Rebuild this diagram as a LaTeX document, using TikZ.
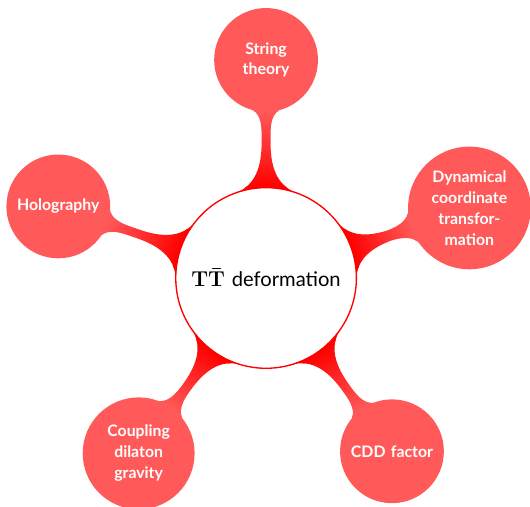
\documentclass[tikz,border=0pt]{standalone}
\usepackage{amsmath}
\usepackage[no-math]{fontspec}
\setsansfont{Lato}
\usetikzlibrary{mindmap}

\colorlet{branch}{red!65}

\tikzset{
  hub/.style={concept, concept color=red, fill=white, draw=red, line width=0.9pt,
    text=black, minimum size=4.25cm, text width=3.8cm,
    font=\sffamily\fontsize{13.5}{16}\selectfont},
  leaf/.style={concept, concept color=branch, fill=branch, text=white,
    minimum size=2.4cm, text width=2.05cm, inner sep=1.5pt,
    font=\sffamily\bfseries\fontsize{10.6}{14}\selectfont},
  bar/.style={circle connection bar switch color=from (red) to (branch)},
}

\begin{document}
\begin{tikzpicture}[mindmap]
  \useasboundingbox (-6.26,-5.37) rectangle (6.21,6.54);

  \node[hub] (tt) at (0,0) {$\mathbf{T\bar{T}}$ deformation};

  \node[leaf] (string) at (90:5.13) {String theory};
  \node[leaf] (coord) at (19:5.06) {Dynamical coordinate transformation};
  \node[leaf] (cdd) at (-54:5.04) {CDD factor};
  \node[leaf] (dilaton) at (-126:5.1) {Coupling dilaton gravity};
  \node[leaf] (holo) at (161:5.17) {Holography};

  \foreach \leafname in {string,coord,cdd,dilaton,holo}
    \path (tt) to[bar] (\leafname);
\end{tikzpicture}
\end{document}
